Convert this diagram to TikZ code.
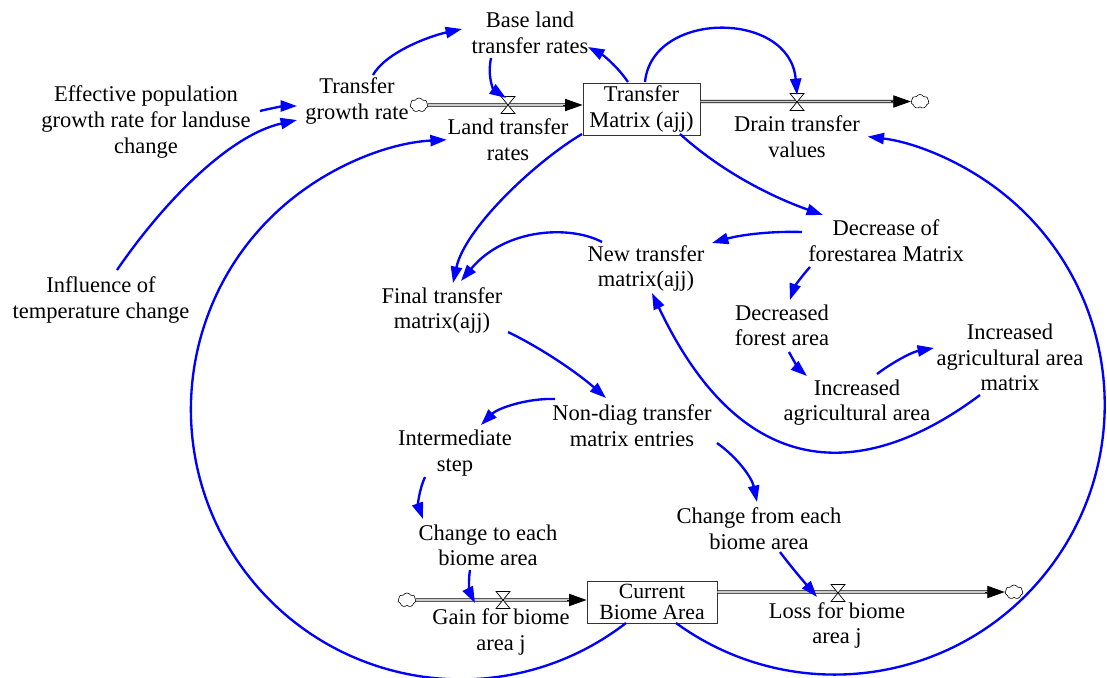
\documentclass[tikz,border=0pt]{standalone}
\usepackage{fontspec}
\setmainfont{Liberation Serif}
\usetikzlibrary{arrows.meta,shapes.symbols,calc}
\begin{document}
\begin{tikzpicture}[x=0.03cm,y=-0.03cm,
  every node/.style={font=\fontsize{19.2pt}{21.8pt}\selectfont},
  lbl/.style={align=center,inner sep=0pt},
  stock/.style={draw=black!80,line width=0.7pt,align=center,inner sep=0pt,fill=white},
  link/.style={draw=blue,line width=2pt,-{Triangle[length=14pt,width=9.5pt]}},
  pipe/.style={draw=black,line width=0.7pt,double=black!20,double distance=1.5pt},
  pipehead/.style={-{Triangle[length=15pt,width=10.5pt]},line width=0.8pt,black},
  cloudy/.style={cloud,cloud puffs=7,cloud puff arc=120,aspect=1.3,draw,line width=0.5pt,minimum width=0.54cm,minimum height=0.42cm,inner sep=0pt,fill=white},
  valve/.pic={\draw[fill=white,line width=0.6pt] (-7,-8.5) -- (7,-8.5) -- (-7,8.5) -- (7,8.5) -- cycle;}
]
\fill[white] (0,0) rectangle (1107,678);
\useasboundingbox (0,0) rectangle (1107,678);

% text variables
\node[lbl] (blr) at (530,33) {Base land\\transfer rates};
\node[lbl] (tgr) at (357,101) {Transfer\\growth rate};
\node[lbl] (epg) at (146,122) {Effective population\\growth rate for landuse\\change};
\node[lbl] (itc) at (101,300) {Influence of\\temperature change};
\node[lbl] (ltr) at (508,139.5) {Land transfer\\rates};
\node[lbl] (dtv) at (797,136.5) {Drain transfer\\values};
\node[lbl] (dfm) at (886,240.5) {Decrease of\\forestarea Matrix};
\node[lbl] (ntm) at (646,268.5) {New transfer\\matrix(ajj)};
\node[lbl] (ftm) at (442,310.5) {Final transfer\\matrix(ajj)};
\node[lbl] (dfa) at (782,325.5) {Decreased\\forest area};
\node[lbl] (iaa) at (857,402.5) {Increased\\agricultural area};
\node[lbl] (iam) at (1010,357.5) {Increased\\agricultural area\\matrix};
\node[lbl] (ndt) at (632,425.5) {Non-diag transfer\\matrix entries};
\node[lbl] (ist) at (455,453) {Intermediate\\step};
\node[lbl] (cte) at (488,545.5) {Change to each\\biome area};
\node[lbl] (cfe) at (759,528.5) {Change from each\\biome area};
\node[lbl] (gba) at (501,632) {Gain for biome\\area j};
\node[lbl] (lba) at (837,625.5) {Loss for biome\\area j};

% clouds
\node[cloudy] (c1) at (419,105) {};
\node[cloudy] (c2) at (920,101.5) {};
\node[cloudy] (c3) at (407,600) {};
\node[cloudy] (c4) at (1014,592) {};

% stocks
\node[stock,minimum width=3.51cm,minimum height=1.56cm] (tm) at (641.5,109) {Transfer\\Matrix (ajj)};
\node[stock,minimum width=3.9cm,minimum height=1.26cm,font=\fontsize{18.5pt}{17.5pt}\selectfont] (cba) at (652,602) {Current\\Biome Area};

% pipes
\draw[pipe] (c1.east) -- ($(tm.west|-c1)+(-8,0)$);
\draw[pipehead] ($(tm.west|-c1)+(-20,0)$) -- (tm.west|-c1);
\draw[pipe] (tm.east|-c2) -- ($(c2.west)+(-8,0)$);
\draw[pipehead] ($(c2.west)+(-20,0)$) -- (c2.west);
\draw[pipe] (c3.east) -- ($(cba.west|-c3)+(-8,0)$);
\draw[pipehead] ($(cba.west|-c3)+(-20,0)$) -- (cba.west|-c3);
\draw[pipe] (cba.east|-c4) -- ($(c4.west)+(-8,0)$);
\draw[pipehead] ($(c4.west)+(-20,0)$) -- (c4.west);

% valves
\coordinate (v1) at (508,105);
\coordinate (v2) at (797,102);
\coordinate (v3) at (503,600);
\coordinate (v4) at (838,593);
\pic at (v1) {valve};
\pic at (v2) {valve};
\pic at (v3) {valve};
\pic at (v4) {valve};

% links
\draw[link] ($(tgr)+(16,-26)$) .. controls (386,52) and (430,36) .. ($(blr)+(-68,-4)$);
\draw[link] ($(tm)+(-13.5,-27)$) .. controls (617,66) and (603,55) .. ($(blr)+(58,14)$);
\draw[link] ($(blr)+(-39,25)$) .. controls (487,78) and (494,90) .. ($(v1)+(-2,-7)$);
\draw[link] ($(tm)+(3.5,-27)$) .. controls (652,10) and (790,10) .. ($(v2)+(0,-7)$);
\draw[link] ($(epg)+(114,-11)$) .. controls (272,108) and (285,106) .. ($(tgr)+(-60,5)$);
\draw[link] ($(itc)+(16,-30)$) .. controls (165,200) and (230,135) .. ($(tgr)+(-60,19)$);
\draw[link] ($(cba)+(-26,21)$) arc[start angle=52.3,end angle=267,radius=270];
\draw[link] ($(cba)+(24,21)$) arc[start angle=126,end angle=-83,radius=270];
\draw[link] ($(tm)+(-59.5,25)$) .. controls (535,162) and (465,228) .. ($(ftm)+(11,-27.5)$);
\draw[link] ($(ntm)+(-44,-26.5)$) .. controls (570,225) and (505,228) .. ($(ftm)+(19,-29.5)$);
\draw[link] ($(tm)+(38.5,25)$) .. controls (722,172) and (772,197) .. ($(dfm)+(-63,-25.5)$);
\draw[link] ($(dfm)+(-84,-8.5)$) .. controls (770,231) and (740,235) .. ($(ntm)+(66,-25.5)$);
\draw[link] ($(dfm)+(-76,26.5)$) .. controls (800,278) and (794,288) .. ($(dfa)+(8,-25.5)$);
\draw[link] ($(dfa)+(7,26.5)$) .. controls (793,360) and (800,370) .. ($(iaa)+(-50,-26.5)$);
\draw[link] ($(iaa)+(20,-28.5)$) .. controls (893,362) and (912,352) .. ($(iam)+(-76,-9.5)$);
\draw[link] ($(iam)+(-30,37.5)$) .. controls (880,470) and (750,500) .. ($(ntm)+(6,24.5)$);
\draw[link] ($(ftm)+(66,21.5)$) .. controls (545,350) and (580,375) .. ($(ndt)+(-26,-27.5)$);
\draw[link] ($(ndt)+(-77,-26.5)$) .. controls (528,398) and (498,408) .. ($(ist)+(26,-28)$);
\draw[link] ($(ist)+(-30,24)$) .. controls (419,490) and (418,505) .. ($(cte)+(-65,-26.5)$);
\draw[link] ($(cte)+(-18,24.5)$) .. controls (468,582) and (470,593) .. ($(gba)+(-26,-29)$);
\draw[link] ($(ndt)+(85,17.5)$) .. controls (738,458) and (752,478) .. ($(cfe)+(-2,-26.5)$);
\draw[link] ($(cfe)+(21,23.5)$) .. controls (792,568) and (805,583) .. ($(lba)+(-20,-28.5)$);
\end{tikzpicture}
\end{document}
